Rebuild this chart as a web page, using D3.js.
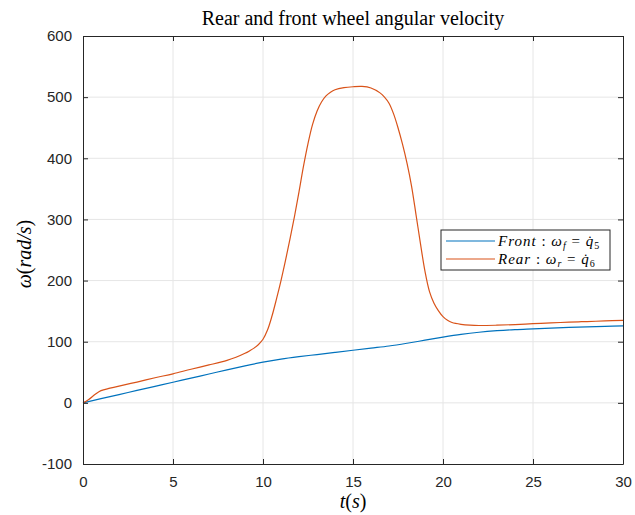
<!DOCTYPE html>
<html>
<head>
<meta charset="utf-8">
<script src="https://cdn.jsdelivr.net/npm/d3@7"></script>
<style>
  body { margin: 0; background: #fff; }
  .grid line { stroke: #e6e6e6; }
  .tick text { font-family: "Liberation Sans", Arial, sans-serif; font-size: 15px; fill: #262626; }
</style>
</head>
<body>
<div id="plot"></div>
<script>
// time samples and values for both wheels
const frontT = [0, 1, 2, 3, 4, 5, 6, 7, 8, 9, 10, 11, 12, 13, 14, 15, 16, 17, 18, 19, 20, 21, 22, 23, 24, 25, 26, 27, 28, 29, 30];
const frontW = [0, 6.8, 13.5, 20.3, 27, 33.7, 40.5, 47.2, 54, 60.5, 66.5, 71.5, 75.5, 79, 82.5, 86, 89.5, 93, 97.5, 102.5, 107.5, 112, 115.5, 118, 119.8, 121, 122.2, 123.3, 124.3, 125.2, 126];

const rearT = [0, 0.3, 0.7, 1, 1.5, 2, 3, 4, 5, 6, 7, 8, 8.5, 9, 9.25, 9.5, 9.75, 10, 10.25, 10.5, 10.75, 11, 11.25, 11.5, 11.75, 12, 12.25, 12.5, 12.75, 13, 13.25, 13.5, 13.75, 14, 14.5, 15, 15.5, 16, 16.5, 16.75, 17, 17.25, 17.5, 17.75, 18, 18.25, 18.5, 18.75, 19, 19.25, 19.5, 19.75, 20, 20.25, 20.5, 21, 21.5, 22, 23, 24, 25, 26, 27, 28, 29, 30];
const rearW = [0, 5, 14.5, 20, 24, 27.5, 34, 41, 47.5, 55, 62, 69.5, 74.5, 81, 85, 89.5, 95.5, 104, 119, 142, 170, 200, 233, 268, 305, 345, 387, 424, 455, 477, 492, 502, 508, 512, 515.5, 517, 517.5, 515, 507, 500, 490, 473, 450, 423, 392, 355, 308, 260, 215, 182, 163, 150.5, 141, 135, 131.5, 128.5, 127, 126.5, 127, 128, 129.5, 130.7, 132, 133, 134, 135];

const xTicks = [0, 5, 10, 15, 20, 25, 30];
const yTicks = [-100, 0, 100, 200, 300, 400, 500, 600];

const margin = {top: 36, right: 12, bottom: 51, left: 83},
      width = 623 - margin.left,
      height = 464 - margin.top;

const x = d3.scaleLinear().domain([0, 30]).range([0, width]);
const y = d3.scaleLinear().domain([-100, 600]).range([height, 0]);

const svg = d3.select("#plot").append("svg")
    .attr("width", 635)
    .attr("height", 515)
  .append("g")
    .attr("transform", `translate(${margin.left},${margin.top})`);

// grid
svg.append("g").attr("class", "grid")
  .selectAll("line").data(xTicks.slice(1, -1)).enter().append("line")
    .attr("x1", d => x(d)).attr("x2", d => x(d))
    .attr("y1", 0).attr("y2", height);
svg.append("g").attr("class", "grid")
  .selectAll("line").data(yTicks.slice(1, -1)).enter().append("line")
    .attr("y1", d => y(d)).attr("y2", d => y(d))
    .attr("x1", 0).attr("x2", width);

// lines
const line = d3.line()
    .x(d => x(d[0]))
    .y(d => y(d[1]))
    .curve(d3.curveCatmullRom.alpha(0.5));

svg.append("path")
    .datum(frontT.map((t, i) => [t, frontW[i]]))
    .attr("fill", "none")
    .attr("stroke", "#0072BD")
    .attr("stroke-width", 1.2)
    .attr("d", line);

svg.append("path")
    .datum(rearT.map((t, i) => [t, rearW[i]]))
    .attr("fill", "none")
    .attr("stroke", "#D95319")
    .attr("stroke-width", 1.2)
    .attr("d", line);

// axes, ticks pointing inwards, box all round
const axisColor = "#262626";
const xb = svg.append("g")
    .attr("transform", `translate(0,${height})`)
    .call(d3.axisBottom(x).tickValues(xTicks).tickSizeInner(-5).tickSizeOuter(0).tickPadding(12));
const xt = svg.append("g")
    .call(d3.axisTop(x).tickValues(xTicks).tickSizeInner(-5).tickSizeOuter(0).tickFormat(""));
const yl = svg.append("g")
    .call(d3.axisLeft(y).tickValues(yTicks).tickSizeInner(-5).tickSizeOuter(0).tickPadding(11).tickFormat(d => String(d)));
const yr = svg.append("g")
    .attr("transform", `translate(${width},0)`)
    .call(d3.axisRight(y).tickValues(yTicks).tickSizeInner(-5).tickSizeOuter(0).tickFormat(""));
[xb, xt, yl, yr].forEach(g => {
  g.selectAll("path, line").attr("stroke", axisColor).attr("stroke-width", 1);
});

// title
svg.append("text")
    .attr("x", width / 2)
    .attr("y", -11)
    .attr("text-anchor", "middle")
    .attr("font-family", "'Liberation Serif', serif")
    .attr("font-size", "20px")
    .attr("fill", "#000")
    .text("Rear and front wheel angular velocity");

// x label  t(s)
const xl = svg.append("text")
    .attr("x", width / 2)
    .attr("y", height + 44)
    .attr("text-anchor", "middle")
    .attr("font-family", "'Liberation Serif', serif")
    .attr("font-size", "20px");
xl.append("tspan").attr("font-style", "italic").text("t");
xl.append("tspan").text("(");
xl.append("tspan").attr("font-style", "italic").text("s");
xl.append("tspan").text(")");

// y label  ω(rad/s)
const ylab = svg.append("text")
    .attr("transform", `translate(-52,${height / 2 + 4}) rotate(-90)`)
    .attr("text-anchor", "middle")
    .attr("font-family", "'Liberation Serif', serif")
    .attr("font-size", "20px");
ylab.append("tspan").attr("font-style", "italic").text("ω");
ylab.append("tspan").text("(");
ylab.append("tspan").attr("font-style", "italic").text("rad/s");
ylab.append("tspan").text(")");

// legend
const legendItems = [
  {name: "Front", sub: "f", q: "5", color: "#0072BD"},
  {name: "Rear", sub: "r", q: "6", color: "#D95319"}
];
const lg = svg.append("g").attr("transform", `translate(${441 - margin.left},${230 - margin.top})`);
lg.append("rect")
    .attr("width", 169).attr("height", 40)
    .attr("fill", "#fff").attr("stroke", axisColor).attr("stroke-width", 1);
const rows = lg.selectAll(".row").data(legendItems).enter().append("g")
    .attr("transform", (d, i) => `translate(0,${11 + i * 18})`);
rows.append("line")
    .attr("x1", 5).attr("x2", 54)
    .attr("stroke", d => d.color).attr("stroke-width", 1.2);
const lt = rows.append("text")
    .attr("x", 57).attr("y", 5)
    .attr("font-family", "'Liberation Serif', serif")
    .attr("font-size", "15px")
    .attr("letter-spacing", "1px");
lt.append("tspan").attr("font-style", "italic").text(d => d.name);
lt.append("tspan").text(" :  ");
lt.append("tspan").attr("font-style", "italic").text("ω");
lt.append("tspan").attr("font-style", "italic").attr("font-size", "10px").attr("dy", 2.5).text(d => d.sub);
lt.append("tspan").attr("dy", -2.5).text(" = ");
lt.append("tspan").attr("font-style", "italic").text("q\u0307");
lt.append("tspan").attr("font-size", "10px").attr("dy", 2.5).text(d => d.q);
</script>
</body>
</html>
